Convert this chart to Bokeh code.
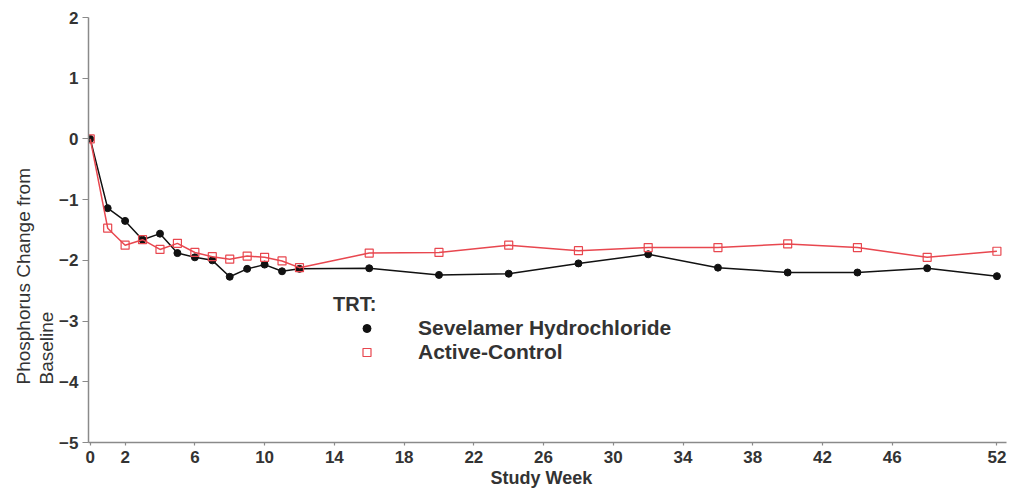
from bokeh.plotting import figure
from bokeh.models import FixedTicker, Legend, LegendItem, Title, Range1d
from bokeh.embed import file_html
from bokeh.resources import INLINE

# ---- data ----
weeks = [0, 1, 2, 3, 4, 5, 6, 7, 8, 9, 10, 11, 12, 16, 20, 24, 28, 32, 36, 40, 44, 48, 52]
sevelamer = [0, -1.14, -1.35, -1.66, -1.56, -1.88, -1.95, -2.00, -2.27, -2.14, -2.07, -2.18,
             -2.14, -2.13, -2.24, -2.22, -2.05, -1.90, -2.12, -2.20, -2.20, -2.13, -2.26]
active = [0, -1.47, -1.75, -1.66, -1.82, -1.72, -1.87, -1.94, -1.98, -1.93, -1.95, -2.01,
          -2.12, -1.88, -1.87, -1.75, -1.84, -1.79, -1.79, -1.73, -1.79, -1.95, -1.85]
x_ticks = [0, 2, 6, 10, 14, 18, 22, 26, 30, 34, 38, 42, 46, 52]
y_ticks = [-5, -4, -3, -2, -1, 0, 1, 2]
series_names = ["Sevelamer Hydrochloride", "Active-Control"]
legend_title = "TRT:"
x_label = "Study Week"
y_label_lines = ["Phosphorus Change from", "Baseline"]

BLACK = "#111111"
RED = "#e8474f"
AXIS = "#8a8a8a"
TXT = "#333333"
FONT = "Liberation Sans"

p = figure(width=1010, height=489, output_backend="svg", toolbar_location=None,
           x_range=Range1d(-0.1, 52.55), y_range=Range1d(-5, 2),
           min_border_left=88, min_border_right=4, min_border_top=17, min_border_bottom=47)
p.outline_line_color = None
p.grid.visible = False
p.background_fill_color = "white"
p.border_fill_color = "white"

# lines + markers
p.line(weeks, sevelamer, line_color=BLACK, line_width=1.5)
s1 = p.scatter(weeks, sevelamer, marker="circle", size=7, fill_color=BLACK, line_color=BLACK)
p.line(weeks, active, line_color=RED, line_width=1.5)
s2 = p.scatter(weeks, active, marker="square", size=8, fill_color="white", fill_alpha=0.0,
               line_color=RED, line_width=1.2)

# axes
for ax in (p.xaxis[0], p.yaxis[0]):
    ax.axis_line_color = AXIS
    ax.axis_line_width = 1.5
    ax.major_tick_line_color = AXIS
    ax.major_tick_line_width = 1.2
    ax.minor_tick_line_color = None
    ax.major_label_text_font = FONT
    ax.major_label_text_font_style = "bold"
    ax.major_label_text_font_size = "17px"
    ax.major_label_text_color = TXT

p.xaxis.ticker = FixedTicker(ticks=x_ticks)
p.yaxis.ticker = FixedTicker(ticks=y_ticks)
p.xaxis.major_tick_out = 3
p.xaxis.major_tick_in = 0
p.xaxis.major_label_standoff = 5
p.yaxis.major_tick_out = 6
p.yaxis.major_tick_in = 0
p.yaxis.major_label_standoff = 4

# axis titles (as side titles so that they sit outside the frame)
p.add_layout(Title(text=x_label, align="left", offset=402, standoff=0,
                   text_font=FONT, text_font_style="bold", text_font_size="18px",
                   text_color=TXT), "below")
p.add_layout(Title(text=y_label_lines[1], align="left", offset=58, standoff=0,
                   text_font=FONT, text_font_style="normal", text_font_size="19px",
                   text_color=TXT), "left")
p.add_layout(Title(text=y_label_lines[0], align="left", offset=58, standoff=0,
                   text_font=FONT, text_font_style="normal", text_font_size="19px",
                   text_color=TXT), "left")

# legend
legend = Legend(items=[LegendItem(label=series_names[0], renderers=[s1]),
                       LegendItem(label=series_names[1], renderers=[s2])],
                title=legend_title, location=(245, 78))
legend.padding = 0
legend.margin = 0
legend.spacing = -3
legend.glyph_width = 67
legend.glyph_height = 20
legend.label_height = 20
legend.label_standoff = 18
legend.title_standoff = 0
legend.border_line_color = None
legend.background_fill_alpha = 0
legend.title_text_font = FONT
legend.title_text_font_style = "bold"
legend.title_text_font_size = "20px"
legend.title_text_color = TXT
legend.label_text_font = FONT
legend.label_text_font_style = "bold"
legend.label_text_font_size = "21px"
legend.label_text_color = TXT
p.add_layout(legend, "center")

open("out.html", "w").write(file_html(p, INLINE))
